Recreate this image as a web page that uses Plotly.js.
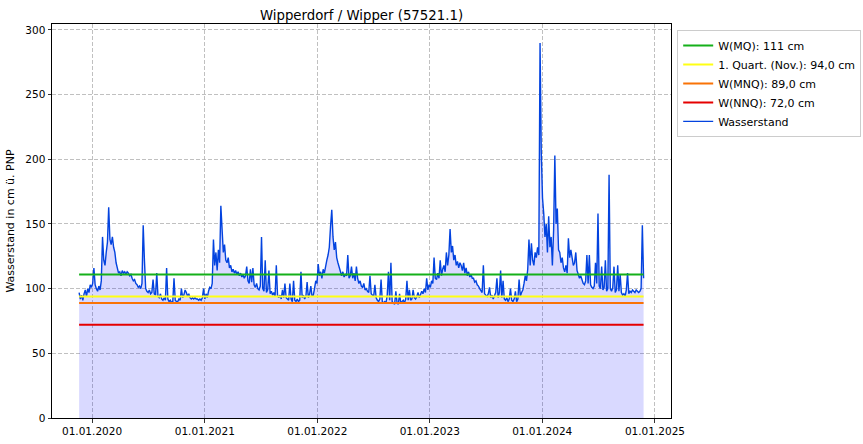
<!DOCTYPE html>
<html>
<head>
<meta charset="utf-8">
<script src="https://cdn.plot.ly/plotly-3.0.1.min.js"></script>
<style>
html,body{margin:0;padding:0;background:#fff;}
#chart{width:863px;height:444px;}
</style>
</head>
<body>
<div id="chart"></div>
<script>
// Series: water level, one reading every 4 days starting 2019-11-20
const startDate = '2019-11-20';
const stepDays = 4;
const waterLevel = [
  97, 92, 95, 91, 96, 99, 94, 100, 97, 103,
  101, 104, 116, 103, 100, 98, 102, 99, 106, 140,
  122, 118, 128, 136, 163, 138, 134, 140, 132, 128,
  120, 116, 112, 113, 110, 114, 112, 113, 111, 113,
  112, 110, 111, 108, 106, 107, 104, 103, 101, 102,
  100, 104, 149, 122, 100, 98, 97, 99, 96, 97,
  107, 96, 95, 112, 94, 93, 96, 92, 91, 93,
  91, 116, 92, 90, 91, 89, 90, 108, 91, 90,
  90, 92, 91, 100, 93, 95, 99, 97, 94, 96,
  93, 92, 93, 92, 93, 92, 92, 91, 92, 91,
  93, 100, 92, 96, 93, 98, 101, 100, 104, 138,
  118, 128, 114, 130, 120, 164, 140, 128, 134, 122,
  120, 124, 116, 118, 113, 115, 112, 114, 111, 113,
  110, 112, 109, 111, 108, 110, 117, 106, 104, 115,
  105, 116, 103, 101, 104, 100, 99, 102, 140, 100,
  98, 122, 97, 99, 114, 96, 98, 95, 97, 94,
  118, 95, 93, 95, 92, 99, 93, 104, 93, 92,
  91, 104, 92, 90, 106, 91, 90, 92, 90, 91,
  113, 93, 95, 92, 94, 105, 93, 96, 102, 94,
  95, 100, 106, 104, 119, 110, 113, 108, 115, 112,
  118, 122, 126, 132, 148, 161, 140, 130, 136, 124,
  120, 116, 112, 110, 113, 109, 111, 110, 126, 108,
  110, 117, 108, 112, 106, 117, 108, 104, 106, 102,
  101, 104, 99, 100, 98, 97, 110, 96, 95, 94,
  103, 93, 91, 90, 92, 107, 90, 89, 90, 89,
  95, 113, 91, 120, 90, 89, 88, 98, 89, 88,
  96, 89, 90, 91, 89, 92, 106, 91, 99, 91,
  92, 99, 93, 92, 94, 97, 93, 95, 98, 96,
  100, 97, 108, 99, 103, 101, 106, 104, 124, 108,
  107, 112, 108, 122, 110, 115, 118, 113, 128, 118,
  126, 146, 128, 133, 122, 126, 118, 121, 116, 120,
  118, 114, 120, 112, 116, 110, 113, 109, 111, 108,
  108, 105, 106, 103, 102, 100, 98, 97, 118, 96,
  95, 94, 96, 101, 93, 95, 92, 94, 97, 108,
  93, 97, 114, 93, 106, 92, 91, 93, 90, 92,
  100, 91, 90, 92, 98, 90, 92, 107, 94, 97,
  99, 104, 110, 106, 115, 138, 118, 135, 122, 118,
  128, 124, 132, 126, 290, 205, 170, 158, 140, 150,
  128, 156, 132, 140, 118, 145, 203, 150, 162, 130,
  128, 120, 124, 116, 113, 118, 112, 139, 124, 130,
  122, 118, 120, 128, 114, 110, 108, 110, 106, 104,
  103, 106, 126, 104, 126, 103, 101, 100, 102, 120,
  104, 158, 102, 100, 117, 99, 101, 122, 98, 100,
  188, 100, 98, 101, 117, 97, 99, 118, 98, 111,
  97, 95, 96, 94, 99, 112, 96, 98, 97, 99,
  98, 97, 99, 98, 97, 98, 100, 149, 108
];

// Reference levels
const thresholdNames = ['W(MQ): 111 cm', '1. Quart. (Nov.): 94,0 cm', 'W(MNQ): 89,0 cm', 'W(NNQ): 72,0 cm'];
const thresholdValues = [111, 94, 89, 72];
const thresholdColors = ['#15b01a', '#ffff14', '#f97306', '#e50000'];

const seriesName = 'Wasserstand';
const titleText = 'Wipperdorf / Wipper (57521.1)';
const yTitle = 'Wasserstand in cm ü. PNP';
const xTickVals = ['2020-01-01', '2021-01-01', '2022-01-01', '2023-01-01', '2024-01-01', '2025-01-01'];

// Build dates
function fmt(d) {
  const y = d.getUTCFullYear();
  const m = String(d.getUTCMonth() + 1).padStart(2, '0');
  const dd = String(d.getUTCDate()).padStart(2, '0');
  return y + '-' + m + '-' + dd;
}
const t0 = Date.parse(startDate + 'T00:00:00Z');
const dates = waterLevel.map((_, i) => fmt(new Date(t0 + i * stepDays * 86400000)));
const firstDate = dates[0];
const lastDate = dates[dates.length - 1];

const traces = [];
traces.push({
  x: dates, y: waterLevel, type: 'scatter', mode: 'lines',
  fill: 'tozeroy', fillcolor: 'rgba(0,0,255,0.15)',
  line: {width: 0, color: 'rgba(0,0,255,0)'},
  showlegend: false, hoverinfo: 'skip'
});
traces.push({
  x: dates, y: waterLevel, type: 'scatter', mode: 'lines',
  name: seriesName, line: {color: '#0343df', width: 1.4},
  legendrank: 5
});
thresholdValues.forEach((v, i) => {
  traces.push({
    x: [firstDate, lastDate], y: [v, v], type: 'scatter', mode: 'lines',
    name: thresholdNames[i], line: {color: thresholdColors[i], width: 2},
    legendrank: i + 1
  });
});

const font = {family: 'DejaVu Sans, sans-serif', color: '#000'};
const layout = {
  width: 863, height: 444,
  paper_bgcolor: '#fff', plot_bgcolor: '#fff',
  margin: {l: 52, r: 192, t: 24, b: 26, pad: 0, autoexpand: false},
  font: Object.assign({size: 11}, font),
  title: {text: titleText, x: 0.5, xref: 'paper', y: 1, yref: 'paper', yanchor: 'bottom', pad: {b: 4},
          font: Object.assign({size: 13.3}, font)},
  xaxis: {
    type: 'date', range: ['2019-08-24', '2025-02-22'],
    tickvals: xTickVals, tickformat: '%d.%m.%Y',
    ticks: 'outside', ticklen: 3.5, tickwidth: 0.8, tickcolor: '#000',
    showline: true, linecolor: '#000', linewidth: 1, mirror: true,
    showgrid: true, gridcolor: '#b0b0b0', gridwidth: 0.8, griddash: '4px,2px',
    zeroline: false, tickfont: Object.assign({size: 10.5}, font), automargin: false
  },
  yaxis: {
    range: [0, 304.6], dtick: 50, tick0: 0,
    ticks: 'outside', ticklen: 3.5, tickwidth: 0.8, tickcolor: '#000',
    showline: true, linecolor: '#000', linewidth: 1, mirror: true,
    showgrid: true, gridcolor: '#b0b0b0', gridwidth: 0.8, griddash: '4px,2px',
    zeroline: false, tickfont: Object.assign({size: 10.5}, font), automargin: false,
    title: {text: yTitle, font: Object.assign({size: 11}, font), standoff: 8}
  },
  legend: {
    x: 1.01, y: 0.985, xanchor: 'left', yanchor: 'top',
    bgcolor: '#fff', bordercolor: '#cccccc', borderwidth: 1,
    font: Object.assign({size: 11}, font), traceorder: 'normal'
  },
  showlegend: true
};

Plotly.newPlot('chart', traces, layout, {staticPlot: true, displayModeBar: false});
</script>
</body>
</html>
